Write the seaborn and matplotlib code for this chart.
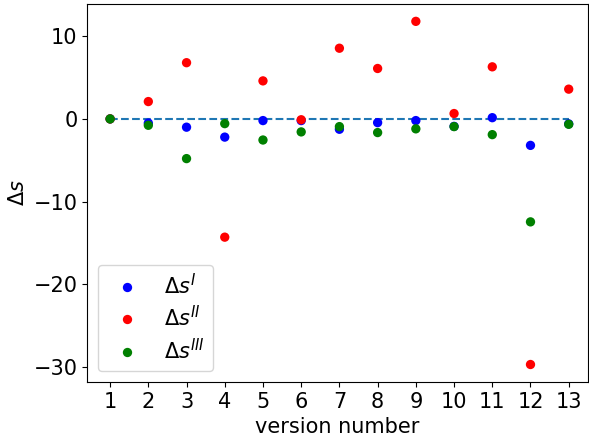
import numpy as np
import pandas as pd
import matplotlib
matplotlib.use("Agg")
import matplotlib.pyplot as plt
import seaborn as sns

versions = list(range(1, 14))
ds_I = [0, -0.5, -1.0, -2.2, -0.2, -0.2, -1.25, -0.45, -0.2, -0.9, 0.15, -3.2, -0.6]
ds_II = [0, 2.1, 6.8, -14.3, 4.6, -0.1, 8.55, 6.1, 11.8, 0.65, 6.3, -29.7, 3.6]
ds_III = [0, -0.77, -4.8, -0.57, -2.55, -1.57, -0.93, -1.65, -1.2, -0.93, -1.9, -12.45, -0.65]
labels = [r'$\Delta s^{I}$', r'$\Delta s^{II}$', r'$\Delta s^{III}$']

df = pd.DataFrame({
    'version': versions * 3,
    'ds': ds_I + ds_II + ds_III,
    'series': [labels[0]] * 13 + [labels[1]] * 13 + [labels[2]] * 13,
})

fig = plt.figure(figsize=(5.89, 4.43), dpi=100)
ax = fig.add_axes([0.148, 0.138, 0.85, 0.853])

sns.scatterplot(data=df, x='version', y='ds', hue='series',
                palette=['blue', 'red', 'green'], s=45, linewidth=0, ax=ax)
ax.plot([versions[0], versions[-1]], [0, 0], '--', color='tab:blue', zorder=0.5)

handles, labs = ax.get_legend_handles_labels()
ax.legend(handles, labs, loc='lower left', fontsize=15, labelspacing=0.35)

ax.set_xticks(versions)
ax.set_xlim(0.4, 13.5)
ax.set_ylim(-31.8, 13.9)
ax.tick_params(labelsize=15)
ax.set_xlabel('version number', fontsize=15)
ax.set_ylabel(r'$\Delta s$', fontsize=15)

fig.savefig('out.png', dpi=100)
